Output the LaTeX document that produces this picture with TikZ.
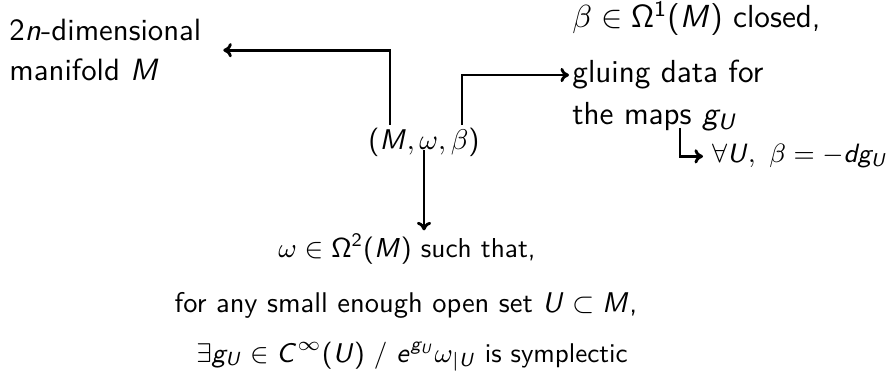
\documentclass[tikz,border=0pt]{standalone}
\usepackage{fix-cm}
\usepackage{amsmath}
\usepackage{tikz}
\usetikzlibrary{arrows.meta,positioning,calc}
% sans serif letters in maths
\DeclareSymbolFont{operators}{OT1}{cmss}{m}{n}
\DeclareSymbolFont{sfletters}{OT1}{cmss}{m}{sl}
\DeclareMathSymbol{M}{\mathalpha}{sfletters}{`M}
\DeclareMathSymbol{U}{\mathalpha}{sfletters}{`U}
\DeclareMathSymbol{C}{\mathalpha}{sfletters}{`C}
\DeclareMathSymbol{g}{\mathalpha}{sfletters}{`g}
\DeclareMathSymbol{d}{\mathalpha}{sfletters}{`d}
\DeclareMathSymbol{e}{\mathalpha}{sfletters}{`e}
\DeclareMathSymbol{n}{\mathalpha}{sfletters}{`n}

\begin{document}
\begin{tikzpicture}[x=0.351pt, y=-0.351pt,
    txt/.style={font=\sffamily, inner sep=1pt},
    bigtxt/.style={font=\sffamily\fontsize{11.2}{13}\selectfont, inner sep=1pt},
    arr/.style={-{Computer Modern Rightarrow[length=3pt,width=5pt]}, line width=1pt}]
  % triple and what each entry means
  \useasboundingbox (0,0) rectangle (887,375);
  \node[txt, anchor=base] (triple) at (424,150) {$(M,\omega,\beta)$};
  \node[txt, font=\sffamily\fontsize{10.8}{13}\selectfont, anchor=north west, align=left] (dim) at (6,16)
    {2$n$-dimensional\\[1pt]manifold $M$};
  \node[bigtxt, anchor=base west] (clsd) at (569,28) {$\beta\in\Omega^1(M)$ closed,};
  \node[bigtxt, anchor=base west] (glue) at (569,83) {gluing data for};
  \node[bigtxt, anchor=base west] (maps) at (569,125) {the maps $g_U$};
  \node[txt, font=\sffamily\fontsize{9.3}{11}\selectfont, inner xsep=3pt, anchor=base west] (exact) at (703,163) {$\forall U,\ \beta=-dg_U$};
  \node[txt, font=\sffamily\fontsize{9.6}{11}\selectfont, anchor=base] (sympl) at (407,258) {$\omega\in\Omega^2(M)$ such that,};
  \node[txt, anchor=base] (small) at (406,313) {for any small enough open set $U\subset M$,};
  \node[txt, font=\sffamily\fontsize{9.5}{11}\selectfont, anchor=base] (conf) at (412,362) {$\exists g_U\in C^\infty(U)$ / $e^{g_U}\omega_{|U}$ is symplectic};
  % connectors
  \draw[arr, shorten >=6.5pt] ($(triple.north west)+(25,0)$) |- (dim.east);
  \draw[arr] ($(triple.north west)+(97,0)$) |- (glue.west);
  \draw[arr] (triple.base) -- (triple.base |- sympl.north);
  \draw[arr] ($(maps.base west)+(111,3)$) |- (exact.west);
\end{tikzpicture}
\end{document}
